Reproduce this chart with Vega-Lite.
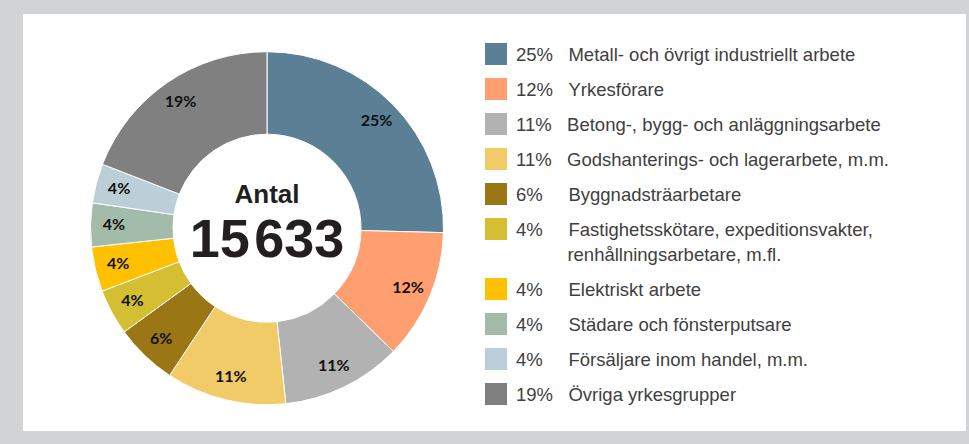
{
  "$schema": "https://vega.github.io/schema/vega-lite/v6.json",
  "width": 943,
  "height": 417,
  "padding": {"left": 23, "top": 14, "right": 3, "bottom": 13},
  "autosize": {"type": "none"},
  "background": "#d1d3d4",
  "view": {"fill": "#ffffff", "stroke": null},
  "config": {
    "view": {"stroke": null, "fill": "#ffffff"},
    "style": {"guide-label": {"dy": -8, "lineHeight": 25}}
  },
  "datasets": {
    "jobs": [
      {"rank": 1, "name": "Metall- och övrigt industriellt arbete", "pct": "25%", "share": 25.4},
      {"rank": 2, "name": "Yrkesförare", "pct": "12%", "share": 11.9},
      {"rank": 3, "name": "Betong-, bygg- och anläggningsarbete", "pct": "11%", "share": 11.0},
      {"rank": 4, "name": "Godshanterings- och lagerarbete, m.m.", "pct": "11%", "share": 11.0},
      {"rank": 5, "name": "Byggnadsträarbetare", "pct": "6%", "share": 5.7},
      {"rank": 6, "name": "Fastighetsskötare, expeditionsvakter,\nrenhållningsarbetare, m.fl.", "pct": "4%", "share": 4.2},
      {"rank": 7, "name": "Elektriskt arbete", "pct": "4%", "share": 4.1},
      {"rank": 8, "name": "Städare och fönsterputsare", "pct": "4%", "share": 4.0},
      {"rank": 9, "name": "Försäljare inom handel, m.m.", "pct": "4%", "share": 3.6},
      {"rank": 10, "name": "Övriga yrkesgrupper", "pct": "19%", "share": 19.1}
    ]
  },
  "data": {"name": "jobs"},
  "layer": [
    {
      "data": {"values": [{"panel": "bakgrund"}]},
      "mark": {"type": "rect", "fill": "#ffffff", "stroke": null},
      "encoding": {
        "x": {"value": 0},
        "x2": {"value": "width"},
        "y": {"value": 0},
        "y2": {"value": "height"}
      }
    },
    {
      "mark": {"type": "arc", "outerRadius": 176.5, "innerRadius": 94, "stroke": "#ffffff", "strokeWidth": 1, "xOffset": -227.5, "yOffset": 5.7},
      "encoding": {
        "theta": {"field": "share", "type": "quantitative", "stack": true},
        "order": {"field": "rank", "type": "quantitative"},
        "color": {
          "field": "name",
          "type": "nominal",
          "scale": {
            "domain": [
              "Metall- och övrigt industriellt arbete",
              "Yrkesförare",
              "Betong-, bygg- och anläggningsarbete",
              "Godshanterings- och lagerarbete, m.m.",
              "Byggnadsträarbetare",
              "Fastighetsskötare, expeditionsvakter,\nrenhållningsarbetare, m.fl.",
              "Elektriskt arbete",
              "Städare och fönsterputsare",
              "Försäljare inom handel, m.m.",
              "Övriga yrkesgrupper"
            ],
            "range": ["#5b7f95", "#ff9e70", "#b2b2b2", "#f0cb67", "#9b7614", "#d4be32", "#ffc000", "#a3bbab", "#bccfd9", "#808080"]
          },
          "legend": {
            "orient": "none",
            "legendX": 462,
            "legendY": 29,
            "title": null,
            "padding": 0,
            "symbolType": "square",
            "symbolSize": 484,
            "symbolStrokeWidth": 0,
            "symbolOpacity": 1,
            "labelFont": "Liberation Sans",
            "labelFontSize": 18.5,
            "labelColor": "#404040",
            "labelOffset": 9,
            "labelLimit": 600,
            "labelBaseline": "top",
            "rowPadding": 13,
            "labelExpr": "length(split(datum.label, '\\n')) > 1 ? [(length(data('jobs')[datum.index].pct) < 3 ? data('jobs')[datum.index].pct + '\u2007' : data('jobs')[datum.index].pct) + '\u00a0\u00a0\u00a0' + split(datum.label, '\\n')[0], '\u200b\u00a0\u00a0\u00a0\u00a0\u00a0\u00a0\u00a0\u00a0\u00a0\u00a0' + split(datum.label, '\\n')[1]] : (length(data('jobs')[datum.index].pct) < 3 ? data('jobs')[datum.index].pct + '\u2007' : data('jobs')[datum.index].pct) + '\u00a0\u00a0\u00a0' + datum.label"
          }
        }
      }
    },
    {
      "mark": {"type": "text", "radius": 153, "xOffset": -227.5, "yOffset": 5.7, "font": "Lato", "fontWeight": "bold", "fontSize": 16, "fill": "#111111"},
      "encoding": {
        "theta": {"field": "share", "type": "quantitative", "stack": true},
        "order": {"field": "rank", "type": "quantitative"},
        "text": {"field": "pct", "type": "nominal"}
      }
    },
    {
      "data": {"values": [{"t": "Antal"}]},
      "mark": {"type": "text", "xOffset": -227.5, "yOffset": 5.7, "dy": -25, "baseline": "alphabetic", "align": "center", "font": "Liberation Sans", "fontWeight": "bold", "fontSize": 26, "fill": "#231f20"},
      "encoding": {"text": {"field": "t", "type": "nominal"}}
    },
    {
      "data": {"values": [{"t": "15\u200a633"}]},
      "mark": {"type": "text", "xOffset": -227.5, "yOffset": 5.7, "dy": 29, "baseline": "alphabetic", "align": "center", "font": "Liberation Sans", "fontWeight": "bold", "fontSize": 54, "fill": "#231f20"},
      "encoding": {"text": {"field": "t", "type": "nominal"}}
    }
  ]
}
